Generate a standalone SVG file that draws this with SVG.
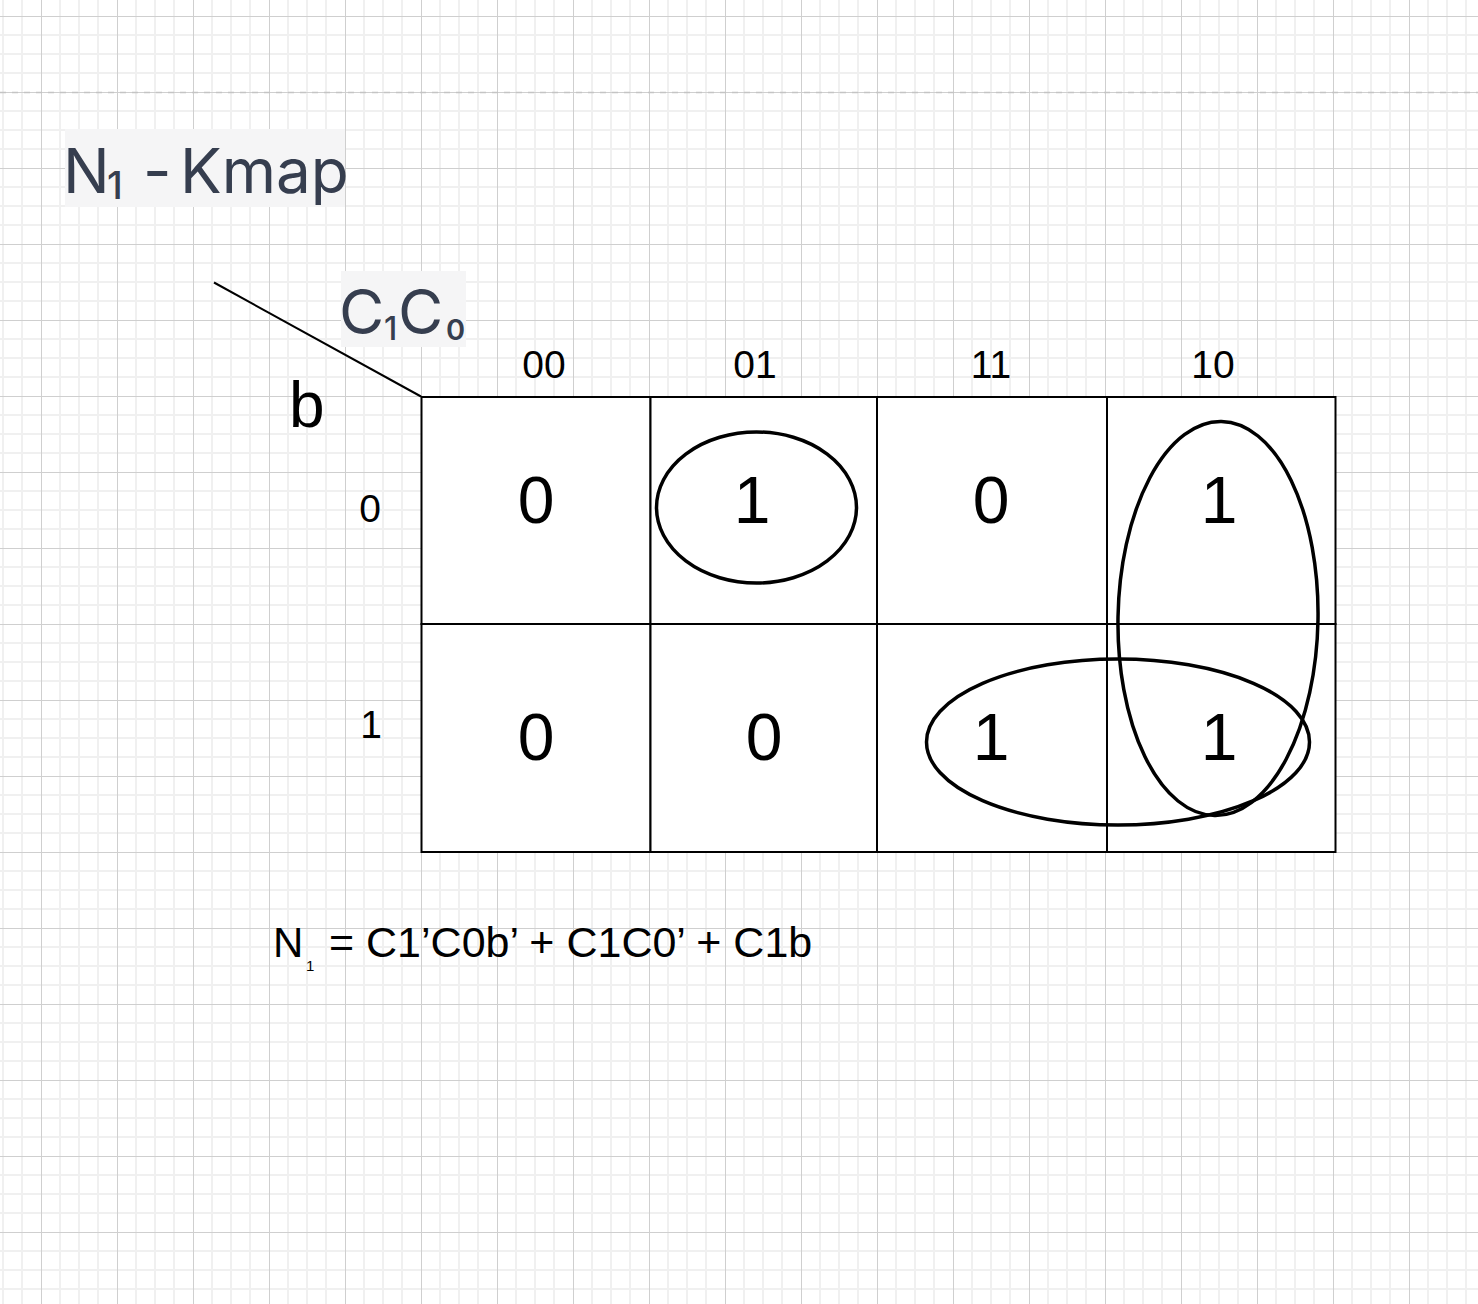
<svg xmlns="http://www.w3.org/2000/svg" width="1478" height="1304" viewBox="0 0 1478 1304">
  <defs>
    <pattern id="grid" patternUnits="userSpaceOnUse" x="-35" y="16" width="76" height="76">
      <rect width="76" height="76" fill="#ffffff"/>
      <g stroke="#f0f0f0" stroke-width="2">
        <line x1="19" y1="0" x2="19" y2="76"/>
        <line x1="38" y1="0" x2="38" y2="76"/>
        <line x1="57" y1="0" x2="57" y2="76"/>
        <line x1="0" y1="19" x2="76" y2="19"/>
        <line x1="0" y1="38" x2="76" y2="38"/>
        <line x1="0" y1="57" x2="76" y2="57"/>
      </g>
      <g stroke="#cfcfcf" stroke-width="1">
        <line x1="0.5" y1="0" x2="0.5" y2="76"/>
        <line x1="0" y1="0.5" x2="76" y2="0.5"/>
      </g>
    </pattern>
    <style>
      .cell { fill: #ffffff; stroke: #000000; stroke-width: 2; }
      .val { font-family: "Liberation Sans", Arial, sans-serif; font-size: 66px; fill: #000; text-anchor: middle; }
      .hdr { font-family: "Liberation Sans", Arial, sans-serif; font-size: 39px; fill: #000; text-anchor: middle; }
      .ttl { font-family: Inter, "Open Sans", sans-serif; fill: #363e4f; }
      .loop { fill: none; stroke: #000; stroke-width: 3.5; }
      .lblbg { fill: #f5f5f6; }
    </style>
  </defs>

  <rect x="0" y="0" width="1478" height="1304" fill="url(#grid)"/>
  <line x1="0" y1="92.5" x2="1478" y2="92.5" stroke="#c4c4c4" stroke-width="1.5" stroke-dasharray="6 6"/>

  <g id="title">
    <rect class="lblbg" x="65" y="129" width="280" height="78"/>
    <text class="ttl" font-size="62"><tspan x="63" y="193">N</tspan><tspan x="107" y="199" font-size="38" font-weight="500">1</tspan><tspan x="143" y="193">-</tspan><tspan x="180" y="193">Kmap</tspan></text>
  </g>

  <g id="col-var-label">
    <rect class="lblbg" x="341" y="271" width="125" height="76"/>
    <text class="ttl" font-size="62"><tspan x="339" y="334">C</tspan><tspan x="384" y="340" font-size="32" font-weight="500">1</tspan><tspan x="398" y="334">C</tspan><tspan x="446" y="340" font-size="29" font-weight="600">0</tspan></text>
  </g>

  <g id="row-var-label">
    <text x="289" y="427" font-family="Liberation Sans, Arial, sans-serif" font-size="64" fill="#000">b</text>
  </g>

  <g id="connectors">
    <line x1="214" y1="282.5" x2="421" y2="396.5" stroke="#000" stroke-width="2"/>
  </g>

  <g id="headers">
    <text class="hdr" x="544" y="378">00</text>
    <text class="hdr" x="755" y="378">01</text>
    <text class="hdr" x="991" y="378">11</text>
    <text class="hdr" x="1213" y="378">10</text>
    <text class="hdr" x="370" y="522">0</text>
    <text class="hdr" x="371" y="738">1</text>
  </g>

  <g id="kmap">
    <rect class="cell" x="421.5" y="397" width="229" height="227"/>
    <rect class="cell" x="650.5" y="397" width="226.5" height="227"/>
    <rect class="cell" x="877" y="397" width="230" height="227"/>
    <rect class="cell" x="1107" y="397" width="228.5" height="227"/>
    <rect class="cell" x="421.5" y="624" width="229" height="228"/>
    <rect class="cell" x="650.5" y="624" width="226.5" height="228"/>
    <rect class="cell" x="877" y="624" width="230" height="228"/>
    <rect class="cell" x="1107" y="624" width="228.5" height="228"/>
  </g>

  <g id="values">
    <text class="val" x="536" y="523">0</text>
    <text class="val" x="752" y="523">1</text>
    <text class="val" x="991" y="523">0</text>
    <text class="val" x="1219" y="523">1</text>
    <text class="val" x="536" y="760">0</text>
    <text class="val" x="764" y="760">0</text>
    <text class="val" x="991" y="760">1</text>
    <text class="val" x="1219" y="760">1</text>
  </g>

  <g id="groups">
    <ellipse class="loop" cx="756.5" cy="507.5" rx="100" ry="75.5"/>
    <ellipse class="loop" cx="1218" cy="618.5" rx="100" ry="197" transform="rotate(1 1218 618.5)"/>
    <ellipse class="loop" cx="1118" cy="742" rx="191.5" ry="83"/>
  </g>

  <g id="equation">
    <text font-family="Liberation Sans, Arial, sans-serif" fill="#000"><tspan x="273" y="957" font-size="42">N</tspan><tspan x="306" y="971" font-size="15">1</tspan><tspan x="329" y="957" font-size="43">= C1’C0b’ + C1C0’ + C1b</tspan></text>
  </g>
</svg>
